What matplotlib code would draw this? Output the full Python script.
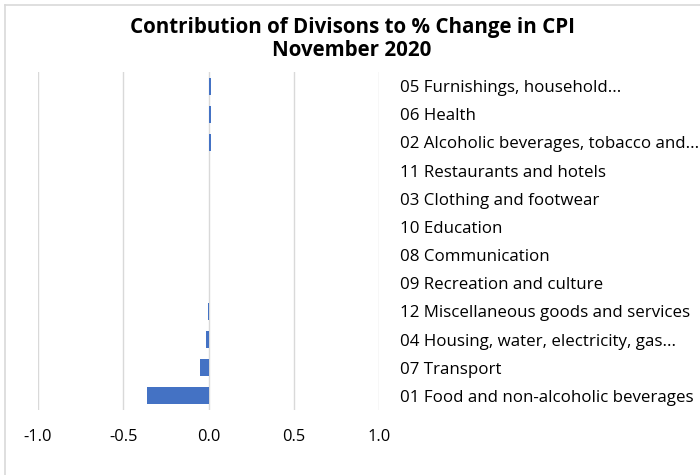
import matplotlib
matplotlib.use("Agg")
import matplotlib.pyplot as plt
from matplotlib.lines import Line2D

categories = [
    "01 Food and non-alcoholic beverages",
    "07 Transport",
    "04 Housing, water, electricity, gas...",
    "12 Miscellaneous goods and services",
    "09 Recreation and culture",
    "08 Communication",
    "10 Education",
    "03 Clothing and footwear",
    "11 Restaurants and hotels",
    "02 Alcoholic beverages, tobacco and...",
    "06 Health",
    "05 Furnishings, household...",
]
values = [-0.36, -0.05, -0.017, -0.003, 0.0, 0.0, 0.0, 0.0, 0.0, 0.012, 0.012, 0.012]
xticks = [-1.0, -0.5, 0.0, 0.5, 1.0]
xtick_labels = ["-1.0", "-0.5", "0.0", "0.5", "1.0"]

plt.rcParams["font.family"] = ["Open Sans", "DejaVu Sans"]

W, H = 700, 475
fig = plt.figure(figsize=(7, 4.75), dpi=100)
ax = fig.add_axes([38 / W, 1 - 410 / H, (379 - 38) / W, (410 - 72) / H])

ypos = list(range(len(categories)))
ax.barh(ypos, values, height=0.6, color="#4472C4", zorder=3)

ax.set_xlim(-1.0, 1.0)
ax.set_ylim(-0.5, len(categories) - 0.5)
ax.set_xticks(xticks)
ax.set_xticklabels(xtick_labels, fontsize=11.8, color="#000000")
ax.set_yticks(ypos)
ax.set_yticklabels(categories, fontsize=12.2, color="#000000")
ax.yaxis.tick_right()
for lab in ax.get_yticklabels():
    lab.set_horizontalalignment("left")
ax.tick_params(axis="y", length=0, pad=15)
ax.tick_params(axis="x", length=0, pad=14)
ax.grid(axis="x", color="#d9d9d9", linewidth=1.0, zorder=0)
for s in ax.spines.values():
    s.set_visible(False)

fig.text(352 / W, 1 - 28 / H, "Contribution of Divisons to % Change in CPI",
         ha="center", va="center", fontsize=14.8, fontweight="bold")
fig.text(352 / W, 1 - 51 / H, "November 2020",
         ha="center", va="center", fontsize=14.8, fontweight="bold")

# chart frame (cropped)
fig.add_artist(Line2D([5 / W, 5 / W], [0, 1 - 5 / H], color="#d9d9d9", linewidth=1.2,
                      transform=fig.transFigure))
fig.add_artist(Line2D([5 / W, 1], [1 - 5 / H, 1 - 5 / H], color="#d9d9d9", linewidth=1.2,
                      transform=fig.transFigure))

fig.savefig("out.png", dpi=100)
